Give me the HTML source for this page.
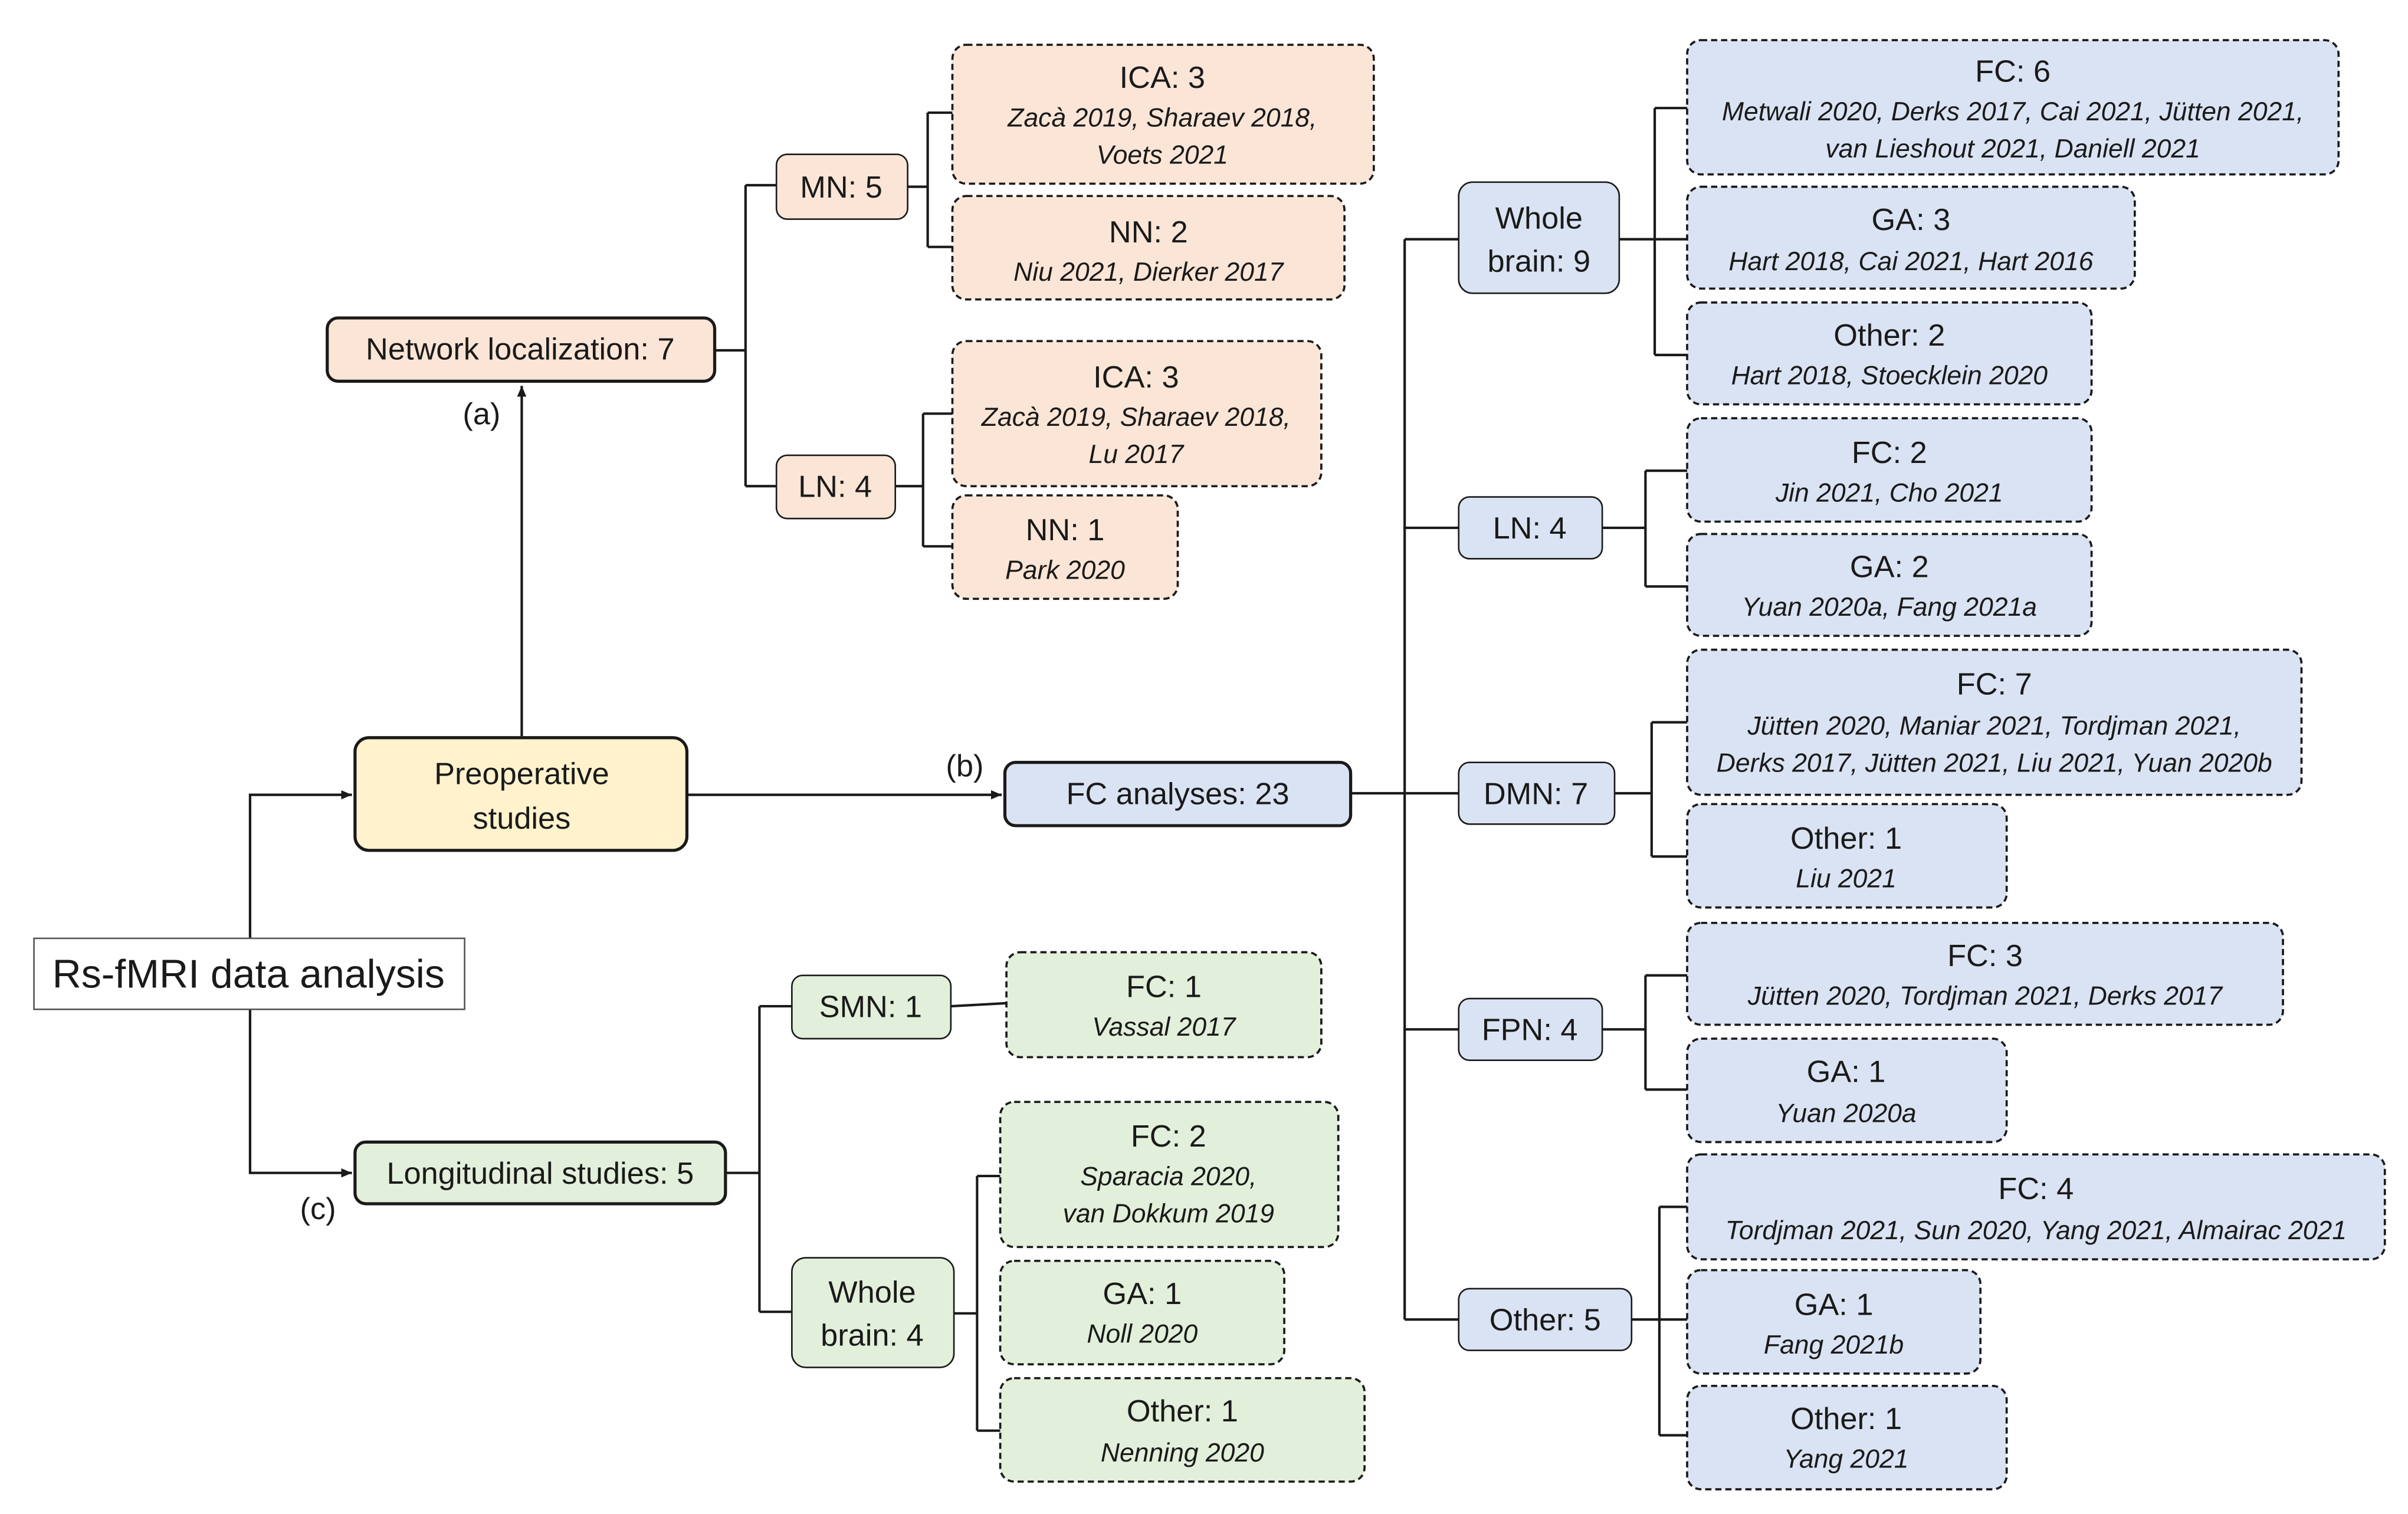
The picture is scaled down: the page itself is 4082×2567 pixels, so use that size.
<!DOCTYPE html>
<html><head><meta charset="utf-8"><style>
html,body{margin:0;padding:0;background:#fff}
svg{display:block}
text{font-family:"Liberation Sans Narrow","Liberation Sans",sans-serif;fill:#1a1a1a;text-anchor:middle}
.t{font-size:20px}
.i{font-size:17px;font-style:italic}
.s{stroke:#1a1a1a;stroke-width:1.6}
.d{stroke:#1a1a1a;stroke-width:1.4;stroke-dasharray:4 2.5}
.l{stroke:#1a1a1a;stroke-width:1.6;fill:none}
.pe{fill:#fbe5d6}.bl{fill:#dae3f3}.gr{fill:#e2efda}
</style></head><body>
<svg width="4082" height="2567" viewBox="0 0 1560 981" xmlns="http://www.w3.org/2000/svg">
<defs><marker id="a" markerWidth="8" markerHeight="8" refX="7" refY="4" orient="auto" markerUnits="userSpaceOnUse"><path d="M0,1 L7,4 L0,7z" fill="#1a1a1a"/></marker></defs>
<!-- connectors -->
<path class="l" d="M338,477 V250" marker-end="url(#a)"/>
<path class="l" d="M162,608 V515 H228" marker-end="url(#a)"/>
<path class="l" d="M162,654 V760 H228" marker-end="url(#a)"/>
<path class="l" d="M445,515 H649" marker-end="url(#a)"/>
<path class="l" d="M463,227 H483 M483,120 V315 M483,120 H503 M483,315 H503"/>
<path class="l" d="M588,121 H601 M601,73 V160 M601,73 H617 M601,160 H617"/>
<path class="l" d="M580,315 H598 M598,268 V354 M598,268 H617 M598,354 H617"/>
<path class="l" d="M875,514 H945 M910,155 V855 M910,155 H945 M910,342 H945 M910,667 H945 M910,855 H945"/>
<path class="l" d="M1049,155 H1093 M1072,70 V230 M1072,70 H1093 M1072,230 H1093"/>
<path class="l" d="M1038,342 H1066 M1066,305 V380 M1066,305 H1093 M1066,380 H1093"/>
<path class="l" d="M1046,514 H1070 M1070,468 V555 M1070,468 H1093 M1070,555 H1093"/>
<path class="l" d="M1038,667 H1066 M1066,632 V706 M1066,632 H1093 M1066,706 H1093"/>
<path class="l" d="M1057,855 H1093 M1075,782 V930 M1075,782 H1093 M1075,930 H1093"/>
<path class="l" d="M470,760 H492 M492,652 V850 M492,652 H513 M492,850 H513"/>
<path class="l" d="M616,652 L652,650"/>
<path class="l" d="M618,851 H633 M633,762 V927 M633,762 H648 M633,927 H648"/>
<!-- labels -->
<text class="t" x="312" y="275">(a)</text>
<text class="t" x="625" y="503">(b)</text>
<text class="t" x="206" y="790">(c)</text>
<!-- main nodes -->
<rect x="22" y="608" width="279" height="46" fill="#fff" stroke="#555" stroke-width="1"/>
<text x="161" y="640" style="font-size:26px">Rs-fMRI data analysis</text>
<rect x="230" y="478" width="215" height="73" rx="9" fill="#fff2cc" class="s" style="stroke-width:2"/>
<text class="t" x="338" y="508">Preoperative</text><text class="t" x="338" y="537">studies</text>
<rect x="212" y="206" width="251" height="41" rx="7" class="pe s" style="stroke-width:2"/>
<text class="t" x="337" y="233">Network localization: 7</text>
<rect x="651" y="494" width="224" height="41" rx="7" class="bl s" style="stroke-width:2"/>
<text class="t" x="763" y="521">FC analyses: 23</text>
<rect x="230" y="740" width="240" height="40" rx="7" class="gr s" style="stroke-width:2"/>
<text class="t" x="350" y="767">Longitudinal studies: 5</text>
<!-- peach -->
<rect x="503" y="100" width="85" height="42" rx="7" class="pe s" style="stroke-width:1"/><text class="t" x="545" y="128">MN: 5</text>
<rect x="503" y="295" width="77" height="41" rx="7" class="pe s" style="stroke-width:1"/><text class="t" x="541" y="322">LN: 4</text>
<rect x="617" y="29" width="273" height="90" rx="9" class="pe d"/>
<text class="t" x="753" y="57">ICA: 3</text><text class="i" x="753" y="82">Zacà 2019, Sharaev 2018,</text><text class="i" x="753" y="106">Voets 2021</text>
<rect x="617" y="127" width="254" height="67" rx="9" class="pe d"/>
<text class="t" x="744" y="157">NN: 2</text><text class="i" x="744" y="182">Niu 2021, Dierker 2017</text>
<rect x="617" y="221" width="239" height="94" rx="9" class="pe d"/>
<text class="t" x="736" y="251">ICA: 3</text><text class="i" x="736" y="276">Zacà 2019, Sharaev 2018,</text><text class="i" x="736" y="300">Lu 2017</text>
<rect x="617" y="321" width="146" height="67" rx="9" class="pe d"/>
<text class="t" x="690" y="350">NN: 1</text><text class="i" x="690" y="375">Park 2020</text>
<!-- blue mid -->
<rect x="945" y="118" width="104" height="72" rx="9" class="bl s" style="stroke-width:1"/>
<text class="t" x="997" y="148">Whole</text><text class="t" x="997" y="176">brain: 9</text>
<rect x="945" y="322" width="93" height="40" rx="7" class="bl s" style="stroke-width:1"/><text class="t" x="991" y="349">LN: 4</text>
<rect x="945" y="494" width="101" height="40" rx="7" class="bl s" style="stroke-width:1"/><text class="t" x="995" y="521">DMN: 7</text>
<rect x="945" y="647" width="93" height="40" rx="7" class="bl s" style="stroke-width:1"/><text class="t" x="991" y="674">FPN: 4</text>
<rect x="945" y="835" width="112" height="40" rx="7" class="bl s" style="stroke-width:1"/><text class="t" x="1001" y="862">Other: 5</text>
<!-- blue leaves -->
<rect x="1093" y="26" width="422" height="87" rx="9" class="bl d"/>
<text class="t" x="1304" y="53">FC: 6</text><text class="i" x="1304" y="78">Metwali 2020, Derks 2017, Cai 2021, Jütten 2021,</text><text class="i" x="1304" y="102">van Lieshout 2021, Daniell 2021</text>
<rect x="1093" y="121" width="290" height="66" rx="9" class="bl d"/>
<text class="t" x="1238" y="149">GA: 3</text><text class="i" x="1238" y="175">Hart 2018, Cai 2021, Hart 2016</text>
<rect x="1093" y="196" width="262" height="66" rx="9" class="bl d"/>
<text class="t" x="1224" y="224">Other: 2</text><text class="i" x="1224" y="249">Hart 2018, Stoecklein 2020</text>
<rect x="1093" y="271" width="262" height="67" rx="9" class="bl d"/>
<text class="t" x="1224" y="300">FC: 2</text><text class="i" x="1224" y="325">Jin 2021, Cho 2021</text>
<rect x="1093" y="346" width="262" height="66" rx="9" class="bl d"/>
<text class="t" x="1224" y="374">GA: 2</text><text class="i" x="1224" y="399">Yuan 2020a, Fang 2021a</text>
<rect x="1093" y="421" width="398" height="94" rx="9" class="bl d"/>
<text class="t" x="1292" y="450">FC: 7</text><text class="i" x="1292" y="476">Jütten 2020, Maniar 2021, Tordjman 2021,</text><text class="i" x="1292" y="500">Derks 2017, Jütten 2021, Liu 2021, Yuan 2020b</text>
<rect x="1093" y="521" width="207" height="67" rx="9" class="bl d"/>
<text class="t" x="1196" y="550">Other: 1</text><text class="i" x="1196" y="575">Liu 2021</text>
<rect x="1093" y="598" width="386" height="66" rx="9" class="bl d"/>
<text class="t" x="1286" y="626">FC: 3</text><text class="i" x="1286" y="651">Jütten 2020, Tordjman 2021, Derks 2017</text>
<rect x="1093" y="673" width="207" height="67" rx="9" class="bl d"/>
<text class="t" x="1196" y="701">GA: 1</text><text class="i" x="1196" y="727">Yuan 2020a</text>
<rect x="1093" y="748" width="452" height="68" rx="9" class="bl d"/>
<text class="t" x="1319" y="777">FC: 4</text><text class="i" x="1319" y="803">Tordjman 2021, Sun 2020, Yang 2021, Almairac 2021</text>
<rect x="1093" y="823" width="190" height="67" rx="9" class="bl d"/>
<text class="t" x="1188" y="852">GA: 1</text><text class="i" x="1188" y="877">Fang 2021b</text>
<rect x="1093" y="898" width="207" height="67" rx="9" class="bl d"/>
<text class="t" x="1196" y="926">Other: 1</text><text class="i" x="1196" y="951">Yang 2021</text>
<!-- green -->
<rect x="513" y="632" width="103" height="41" rx="7" class="gr s" style="stroke-width:1"/><text class="t" x="564" y="659">SMN: 1</text>
<rect x="513" y="815" width="105" height="71" rx="9" class="gr s" style="stroke-width:1"/>
<text class="t" x="565" y="844">Whole</text><text class="t" x="565" y="872">brain: 4</text>
<rect x="652" y="617" width="204" height="68" rx="9" class="gr d"/>
<text class="t" x="754" y="646">FC: 1</text><text class="i" x="754" y="671">Vassal 2017</text>
<rect x="648" y="714" width="219" height="94" rx="9" class="gr d"/>
<text class="t" x="757" y="743">FC: 2</text><text class="i" x="757" y="768">Sparacia 2020,</text><text class="i" x="757" y="792">van Dokkum 2019</text>
<rect x="648" y="817" width="184" height="67" rx="9" class="gr d"/>
<text class="t" x="740" y="845">GA: 1</text><text class="i" x="740" y="870">Noll 2020</text>
<rect x="648" y="893" width="236" height="67" rx="9" class="gr d"/>
<text class="t" x="766" y="921">Other: 1</text><text class="i" x="766" y="947">Nenning 2020</text>
</svg>
</body></html>
